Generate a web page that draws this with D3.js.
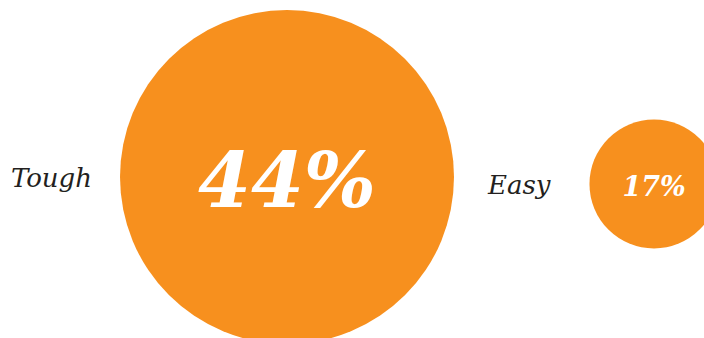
<!DOCTYPE html>
<html>
<head>
<meta charset="utf-8">
<script src="https://cdn.jsdelivr.net/npm/d3@7"></script>
<style>
  html, body { margin: 0; padding: 0; background: #fff; }
  svg { display: block; }
</style>
</head>
<body>
<svg id="chart"></svg>
<script>
// data
var categories = ["Tough", "Easy"];
var values = [44, 17];
var valueLabels = ["44%", "17%"];

var width = 704,
    height = 338;

var svg = d3.select("#chart")
    .attr("width", width)
    .attr("height", height);

// radius grows linearly with the value
var r = d3.scaleLinear()
    .domain([0, 44])
    .range([0, 167]);

// circle centres along the row
var x = d3.scaleOrdinal()
    .domain(categories)
    .range([287, 654]);

var cy = d3.scaleOrdinal()
    .domain(categories)
    .range([177, 184]);

var labelGap = d3.scaleOrdinal()
    .domain(categories)
    .range([28, 39]);

var rows = categories.map(function(c, i) {
  return { cat: c, value: values[i], label: valueLabels[i] };
});

var g = svg.selectAll("g.item")
    .data(rows)
    .enter()
    .append("g")
    .attr("class", "item");

g.append("circle")
    .attr("cx", function(d) { return x(d.cat); })
    .attr("cy", function(d) { return cy(d.cat); })
    .attr("r", function(d) { return r(d.value); })
    .attr("fill", "#F7901E");

g.append("text")
    .attr("x", function(d) { return x(d.cat) - r(d.value) - labelGap(d.cat); })
    .attr("y", function(d) { return cy(d.cat) + 10; })
    .attr("text-anchor", "end")
    .style("font-family", "'DejaVu Serif', serif")
    .style("font-style", "italic")
    .style("font-size", "26px")
    .style("fill", "#231f20")
    .text(function(d) { return d.cat; });

g.append("text")
    .attr("x", function(d) { return x(d.cat); })
    .attr("y", function(d) { return cy(d.cat) + r(d.value) * 0.18; })
    .attr("text-anchor", "middle")
    .style("font-family", "'DejaVu Serif', serif")
    .style("font-style", "italic")
    .style("font-weight", "bold")
    .style("font-size", function(d) { return d.value > 30 ? "76px" : "27px"; })
    .style("fill", "#fff")
    .text(function(d) { return d.label; });
</script>
</body>
</html>
